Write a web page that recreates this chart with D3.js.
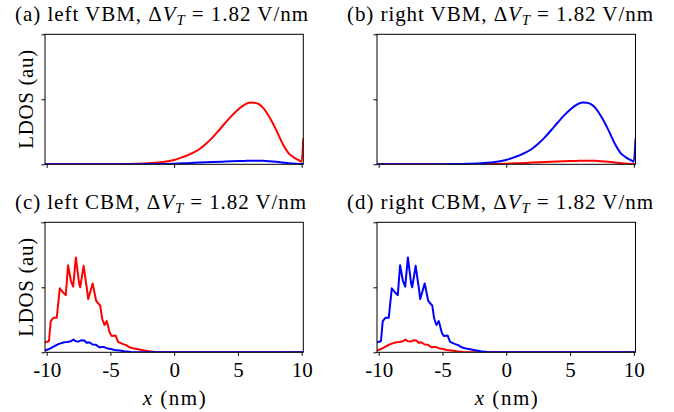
<!DOCTYPE html>
<html>
<head>
<meta charset="utf-8">
<script src="https://cdn.jsdelivr.net/npm/d3@7"></script>
<style>
  body { margin: 0; background: #fff; }
  svg { display: block; }
  text { font-family: "Liberation Serif", "Times New Roman", serif; fill: #000; }
</style>
</head>
<body>
<svg id="fig" width="674" height="412"></svg>
<script>
// ---- data -------------------------------------------------------------
// Valence-band-maximum LDOS: dominant layer component
const vbmMainX = [-10.13, -8, -6, -5, -4, -3, -2, -1.5, -1, -0.5, 0, 0.5, 1, 1.5, 2, 2.5, 3, 3.5, 4, 4.5, 5, 5.5, 6, 6.3, 6.6, 7, 7.5, 8, 8.5, 9, 9.3, 9.6, 9.8, 10.0, 10.13];
const vbmMainY = [0, 0, 0.001, 0.002, 0.004, 0.008, 0.015, 0.022, 0.032, 0.047, 0.067, 0.098, 0.135, 0.178, 0.235, 0.315, 0.41, 0.52, 0.635, 0.745, 0.84, 0.915, 0.95, 0.948, 0.93, 0.865, 0.715, 0.53, 0.32, 0.165, 0.118, 0.08, 0.062, 0.04, 0.40];
// Valence-band-maximum LDOS: minor layer component
const vbmMinorX = [-10.13, -4, -2, 0, 1, 2, 3, 4, 5, 5.5, 6, 6.5, 7, 7.5, 8, 8.5, 9, 9.5, 10, 10.13];
const vbmMinorY = [0, 0.001, 0.004, 0.01, 0.017, 0.026, 0.034, 0.042, 0.049, 0.052, 0.055, 0.056, 0.054, 0.047, 0.038, 0.028, 0.017, 0.008, 0.003, 0.004];
// Conduction-band-minimum LDOS: dominant layer component
const cbmMainX = [-10.13, -9.82, -9.68, -9.47, -9.21, -8.97, -8.71, -8.5, -8.32, -8.1, -7.92, -7.71, -7.45, -7.37, -7.1, -6.84, -6.74, -6.39, -6.13, -5.95, -5.8, -5.65, -5.47, -5.29, -5.05, -4.9, -4.6, -4.4, -4.05, -3.76, -3.5, -3.24, -2.84, -2.45, -2.0, -1.5, -1.0, 0, 10.13];
const cbmMainY = [0.155, 0.17, 0.48, 0.53, 0.53, 0.985, 0.92, 0.88, 1.34, 1.10, 1.01, 1.46, 1.05, 1.0, 1.33, 0.97, 0.82, 1.06, 0.80, 0.75, 0.72, 0.52, 0.42, 0.48, 0.30, 0.25, 0.26, 0.16, 0.13, 0.11, 0.077, 0.062, 0.046, 0.031, 0.015, 0.006, 0.002, 0, 0];
// Conduction-band-minimum LDOS: minor layer component
const cbmMinorX = [-10.13, -9.82, -9.42, -9.03, -8.63, -8.37, -8.1, -7.9, -7.71, -7.5, -7.26, -7.05, -6.84, -6.66, -6.39, -6.13, -5.87, -5.53, -5.21, -4.95, -4.68, -4.29, -3.89, -3.37, -2.8, 0, 10.13];
const cbmMinorY = [0.026, 0.05, 0.093, 0.13, 0.155, 0.16, 0.17, 0.196, 0.17, 0.165, 0.186, 0.18, 0.145, 0.155, 0.12, 0.115, 0.077, 0.083, 0.057, 0.05, 0.036, 0.026, 0.015, 0.005, 0.001, 0, 0];

// axis ticks and labels
const xTicksTop = [-10, 0, 10];
const xTicksBottom = [-10, -5, 0, 5, 10];
const xTickLabels = ["-10", "-5", "0", "5", "10"];
const yTicks = [0, 1, 2];
const xDomain = [-10.13, 10.13];
const yDomain = [0, 2];

// panel descriptions
const panelTags = ["(a)", "(b)", "(c)", "(d)"];
const panelSides = ["left", "right", "left", "right"];
const panelBands = ["VBM", "VBM", "CBM", "CBM"];
const fieldValue = "1.82";

// ---- layout -----------------------------------------------------------
const frames = [
  { x0: 45,  x1: 303.3, y0: 34.3,  y1: 164.3, row: 0, titleW: 293 },
  { x0: 377, x1: 635.5, y0: 34.3,  y1: 164.3, row: 0, titleW: 306 },
  { x0: 45,  x1: 303.3, y0: 222.3, y1: 352.3, row: 1, titleW: 291 },
  { x0: 377, x1: 635.5, y0: 222.3, y1: 352.3, row: 1, titleW: 306 }
];
const RED = "#ff0000", BLUE = "#0000ff";
const FONT = 21;

const svg = d3.select("#fig");
const defs = svg.append("defs");

function series(xs, ys) { return xs.map((x, i) => [x, ys[i]]); }
const profiles = {
  vbmMain: series(vbmMainX, vbmMainY),
  vbmMinor: series(vbmMinorX, vbmMinorY),
  cbmMain: series(cbmMainX, cbmMainY),
  cbmMinor: series(cbmMinorX, cbmMinorY)
};

frames.forEach((f, i) => {
  const x = d3.scaleLinear().domain(xDomain).range([f.x0, f.x1]);
  const y = d3.scaleLinear().domain(yDomain).range([f.y1, f.y0]);
  const g = svg.append("g");
  const band = panelBands[i];
  const side = panelSides[i];
  const smooth = band === "VBM";
  const key = band === "VBM" ? "vbm" : "cbm";
  // left panels: red is the dominant profile; right panels: blue is
  const redData = side === "left" ? profiles[key + "Main"] : profiles[key + "Minor"];
  const blueData = side === "left" ? profiles[key + "Minor"] : profiles[key + "Main"];

  const clipId = "clip" + i;
  defs.append("clipPath").attr("id", clipId)
    .append("rect").attr("x", f.x0).attr("y", f.y0)
    .attr("width", f.x1 - f.x0).attr("height", f.y1 - f.y0);

  const line = d3.line().x(d => x(d[0])).y(d => y(d[1]))
    .curve(smooth ? d3.curveMonotoneX : d3.curveLinear);

  const plot = g.append("g").attr("clip-path", `url(#${clipId})`);
  plot.append("path").datum(redData).attr("d", line)
    .attr("fill", "none").attr("stroke", RED).attr("stroke-width", 2)
    .attr("stroke-linejoin", "round");
  plot.append("path").datum(blueData).attr("d", line)
    .attr("fill", "none").attr("stroke", BLUE).attr("stroke-width", 2)
    .attr("stroke-linejoin", "round");

  // axes
  const bottomTicks = f.row === 1 ? xTicksBottom : xTicksTop;
  const xAxis = d3.axisBottom(x).tickValues(bottomTicks).tickSizeInner(3.5).tickSizeOuter(0)
    .tickFormat(f.row === 1 ? (d => xTickLabels[xTicksBottom.indexOf(d)]) : () => "");
  const xg = g.append("g").attr("transform", `translate(0,${f.y1})`).call(xAxis);
  xg.select(".domain").remove();
  xg.selectAll("line").attr("stroke", "#000").attr("stroke-width", 1);
  xg.selectAll("text").attr("font-size", FONT).attr("font-family", "Liberation Serif")
    .attr("y", 24.4).attr("dy", null).attr("fill", "#000");

  const yAxis = d3.axisLeft(y).tickValues(yTicks).tickSizeInner(3.5).tickSizeOuter(0).tickFormat(() => "");
  const yg = g.append("g").attr("transform", `translate(${f.x0},0)`).call(yAxis);
  yg.select(".domain").remove();
  yg.selectAll("line").attr("stroke", "#000").attr("stroke-width", 1);

  // frame
  g.append("rect").attr("x", f.x0).attr("y", f.y0)
    .attr("width", f.x1 - f.x0).attr("height", f.y1 - f.y0)
    .attr("fill", "none").attr("stroke", "#000").attr("stroke-width", 1);

  // title
  const t = g.append("text").attr("x", f.x0 - 30).attr("y", f.y0 - 13)
    .attr("font-size", FONT)
    .attr("textLength", f.titleW).attr("lengthAdjust", "spacing");
  t.append("tspan").text(`${panelTags[i]} ${side} ${band}, \u0394`);
  t.append("tspan").attr("font-style", "italic").text("V");
  t.append("tspan").attr("font-style", "italic").attr("font-size", FONT * 0.7).attr("dy", 4).text("T");
  t.append("tspan").attr("dy", -4).text(` = ${fieldValue} V/nm`);

  // y label on left panels
  if (side === "left") {
    g.append("text")
      .attr("transform", `translate(32.5,${(f.y0 + f.y1) / 2}) rotate(-90)`)
      .attr("text-anchor", "middle").attr("font-size", FONT)
      .attr("textLength", 99).attr("lengthAdjust", "spacing")
      .text("LDOS (au)");
  }
  // x label on bottom row
  if (f.row === 1) {
    const xl = g.append("text").attr("x", (f.x0 + f.x1) / 2).attr("y", 405)
      .attr("text-anchor", "middle").attr("font-size", FONT)
      .attr("textLength", 63).attr("lengthAdjust", "spacing");
    xl.append("tspan").attr("font-style", "italic").text("x");
    xl.append("tspan").text(" (nm)");
  }
});
</script>
</body>
</html>
